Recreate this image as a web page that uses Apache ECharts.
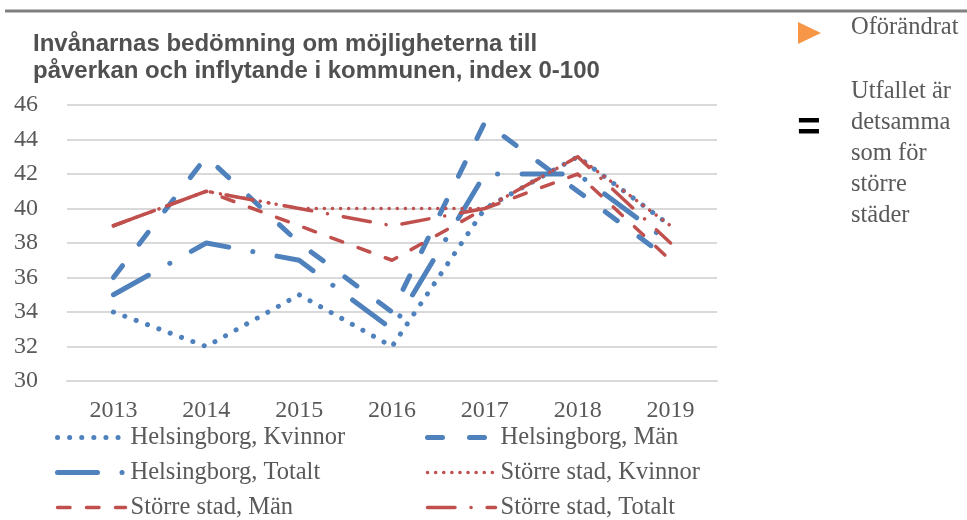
<!DOCTYPE html>
<html><head><meta charset="utf-8">
<script src="https://cdn.jsdelivr.net/npm/echarts@6/dist/echarts.min.js"></script>
<style>html,body{margin:0;padding:0;background:#fff}#c{width:967px;height:520px}</style>
</head><body><div id="c"></div>
<script>
const years = ['2013', '2014', '2015', '2016', '2017', '2018', '2019'];
const hbgKvinnor = [34, 32, 35, 32, 40, 43, 39];
const hbgMan = [36, 43, 38, 34, 45, 41, 37];
const hbgTotalt = [35, 38, 37, 33, 42, 42, 38];
const ssKvinnor = [39, 41, 40, 40, 40, 43, 39];
const ssMan = [39, 41, 39, 37, 40, 42, 37];
const ssTotalt = [39, 41, 40, 39, 40, 43, 38];
const seriesNames = ['Helsingborg, Kvinnor', 'Helsingborg, Män', 'Helsingborg, Totalt',
  'Större stad, Kvinnor', 'Större stad, Män', 'Större stad, Totalt'];
const titleText = 'Invånarnas bedömning om möjligheterna till\npåverkan och inflytande i kommunen, index 0-100';
const noteTop = 'Oförändrat';
const noteSame = 'Utfallet är\ndetsamma\nsom för\nstörre\nstäder';

const BLUE = '#4f81bd', RED = '#c0504d', TXT = '#595959';
const SERIF = '"Liberation Serif", "Times New Roman", serif';

function mk(name, data, color, width, dash) {
  return {
    name, type: 'line', data, symbol: 'none', showSymbol: false,
    lineStyle: { color, width, type: dash, cap: 'round', join: 'round' },
    itemStyle: { color }, emphasis: { disabled: true }, silent: true
  };
}

const legendCommon = {
  orient: 'vertical', itemWidth: 68, itemHeight: 14, itemGap: 10,
  textStyle: { fontFamily: SERIF, fontSize: 24.5, color: TXT, lineHeight: 24 },
  itemStyle: { opacity: 0 }, lineStyle: { width: 'inherit' }, selectedMode: false, padding: 0
};

const chart = echarts.init(document.getElementById('c'), null, { renderer: 'canvas' });
chart.setOption({
  animation: false,
  backgroundColor: '#fff',
  title: {
    text: titleText, left: 33, top: 31, padding: 0,
    textStyle: { fontFamily: '"Liberation Sans", Arial, sans-serif', fontWeight: 'bold', fontSize: 24, color: '#505050', lineHeight: 27 }
  },
  grid: { left: 67, right: 250, top: 105, bottom: 139, containLabel: false, outerBoundsMode: 'none' },
  xAxis: {
    type: 'category', data: years, boundaryGap: true,
    axisLine: { show: true, lineStyle: { color: '#d9d9d9', width: 2 } },
    axisTick: { show: false },
    axisLabel: { fontFamily: SERIF, fontSize: 24, color: TXT, margin: 18, interval: 0 }
  },
  yAxis: {
    type: 'value', min: 30, max: 46, interval: 2,
    axisLine: { show: false }, axisTick: { show: false },
    splitLine: { lineStyle: { color: '#d9d9d9', width: 2 } },
    axisLabel: { fontFamily: SERIF, fontSize: 24, color: TXT, margin: 29 }
  },
  legend: [
    Object.assign({}, legendCommon, { left: 55, top: 425, data: [seriesNames[0], seriesNames[2], seriesNames[4]] }),
    Object.assign({}, legendCommon, { left: 425, top: 425, data: [seriesNames[1], seriesNames[3], seriesNames[5]] })
  ],
  series: [
    mk(seriesNames[0], hbgKvinnor, BLUE, 5, [0.1, 12]),
    mk(seriesNames[1], hbgMan, BLUE, 5, [15, 27]),
    mk(seriesNames[2], hbgTotalt, BLUE, 5, [40, 24.5, 0.1, 24.5]),
    mk(seriesNames[3], ssKvinnor, RED, 3.5, [0.1, 8]),
    mk(seriesNames[4], ssMan, RED, 3.5, [12.5, 16.5]),
    mk(seriesNames[5], ssTotalt, RED, 3.5, [27.5, 16, 0.1, 16])
  ],
  graphic: [
    { type: 'line', shape: { x1: 5, y1: 11, x2: 967, y2: 11 }, style: { stroke: '#808080', lineWidth: 3 }, silent: true },
    { type: 'polygon', shape: { points: [[798, 22], [821, 33], [798, 44]] }, style: { fill: '#f79646' }, silent: true },
    { type: 'text', x: 851, y: 28, silent: true,
      style: { text: noteTop, font: '24.5px ' + SERIF, fill: TXT, verticalAlign: 'middle' } },
    { type: 'text', x: 809, y: 129, silent: true,
      style: { text: '=', font: 'bold 40px "Liberation Sans", Arial, sans-serif', fill: '#000', align: 'center', verticalAlign: 'middle' } },
    { type: 'text', x: 851, y: 76, silent: true,
      style: { text: noteSame, font: '24.5px ' + SERIF, fill: TXT, lineHeight: 31, verticalAlign: 'top' } }
  ]
});
</script></body></html>
